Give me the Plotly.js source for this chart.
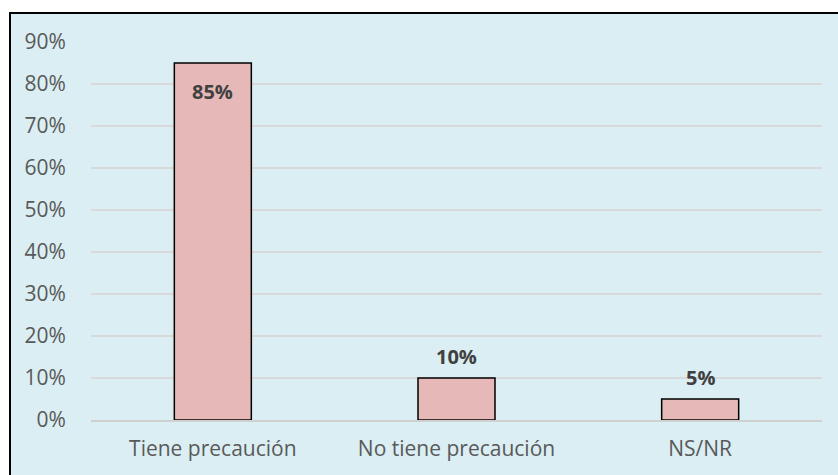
<!DOCTYPE html>
<html>
<head>
<meta charset="utf-8">
<script src="https://cdn.plot.ly/plotly-3.0.1.min.js"></script>
<style>
  html, body { margin: 0; padding: 0; background: #ffffff; overflow: hidden; width: 838px; height: 475px; }
  #frame { position: absolute; left: 9px; top: 12px; width: 840px; height: 470px; border: 2px solid #000; background: #DAEEF3; }
  #chart { position: absolute; left: 0; top: 0; width: 840px; height: 465px; }
</style>
</head>
<body>
<div id="frame"><div id="chart"></div></div>
<script>
const categories = ["Tiene precaución", "No tiene precaución", "NS/NR"];
const values = [0.85, 0.10, 0.05];
const valueLabels = ["85%", "10%", "5%"];

const annotations = categories.map((c, i) => {
  const inside = values[i] > 0.5;
  return {
    x: c, y: values[i], xref: 'x', yref: 'y',
    text: valueLabels[i], showarrow: false,
    yanchor: inside ? 'top' : 'bottom',
    yshift: inside ? -13 : 6,
    font: { family: 'Open Sans', size: 20, color: '#404040', weight: 700 }
  };
});

const trace = {
  type: 'bar',
  x: categories,
  y: values,
  marker: { color: '#E6B8B7', line: { color: '#000000', width: 1.5 } },
  hoverinfo: 'none'
};

const layout = {
  width: 840, height: 465,
  margin: { l: 80, r: 29, t: 28, b: 59 },
  paper_bgcolor: 'rgba(0,0,0,0)',
  plot_bgcolor: 'rgba(0,0,0,0)',
  showlegend: false,
  bargap: 0.684,
  font: { family: 'Open Sans', size: 21, color: '#595959' },
  xaxis: {
    showgrid: false, zeroline: false,
    showline: true, linecolor: '#D0D0D0', linewidth: 2, layer: 'above traces',
    ticks: 'outside', ticklen: 9, tickcolor: 'rgba(0,0,0,0)',
    tickfont: { family: 'Open Sans', size: 21, color: '#595959' }
  },
  yaxis: {
    range: [0, 0.9], dtick: 0.1, tick0: 0, tickformat: '.0%',
    showgrid: true, gridcolor: '#D9D9D9', gridwidth: 1.5,
    zeroline: false, showline: false,
    ticks: 'outside', ticklen: 20, tickcolor: 'rgba(0,0,0,0)',
    tickfont: { family: 'Open Sans', size: 21, color: '#595959' }
  },
  annotations: annotations
};

Plotly.newPlot('chart', [trace], layout, { staticPlot: true, displayModeBar: false });
</script>
</body>
</html>
